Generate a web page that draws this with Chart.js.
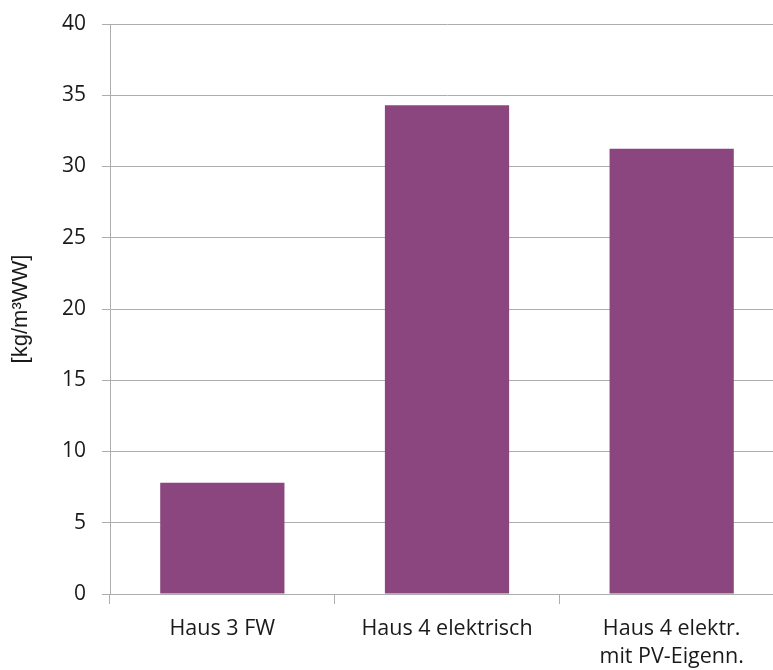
<!DOCTYPE html>
<html>
<head>
<meta charset="utf-8">
<script src="https://cdn.jsdelivr.net/npm/chart.js@4"></script>
<style>
  html, body { margin: 0; padding: 0; background: #fff; overflow: hidden; }
</style>
</head>
<body>
<canvas id="chart" width="784" height="670"></canvas>
<script>
// data
const categories = ['Haus 3 FW', 'Haus 4 elektrisch', ['Haus 4 elektr.', 'mit PV-Eigenn.']];
const values = [7.8, 34.3, 31.25];
const yTicks = [0, 5, 10, 15, 20, 25, 30, 35, 40];
const yTitle = '[kg/m³WW]';

const gridColor = '#adadad';
const barColor = '#8b4680';

const ctx = document.getElementById('chart').getContext('2d');
new Chart(ctx, {
    type: 'bar',
    data: {
        labels: categories,
        datasets: [{
            data: values,
            backgroundColor: barColor,
            borderWidth: 0,
            barPercentage: 0.553,
            categoryPercentage: 1
        }]
    },
    options: {
        responsive: false,
        animation: false,
        layout: { padding: { top: 24, right: 0, bottom: 0, left: 0 } },
        plugins: { legend: { display: false }, tooltip: { enabled: false } },
        scales: {
            x: {
                grid: { drawOnChartArea: false, drawTicks: true, tickLength: 10, color: gridColor },
                border: { color: gridColor, width: 1 },
                ticks: {
                    color: '#1a1a1a',
                    padding: 11,
                    maxRotation: 0,
                    font: { family: 'Open Sans', size: 21.5, lineHeight: 1.3 }
                },
                afterFit: scale => {
                    scale.height = 76;
                    scale.paddingLeft = 0;
                    scale.paddingRight = 0;
                }
            },
            y: {
                min: 0,
                max: 40,
                afterBuildTicks: scale => { scale.ticks = yTicks.map(v => ({ value: v })); },
                grid: { color: gridColor, tickLength: 8 },
                border: { color: gridColor, width: 1 },
                ticks: {
                    color: '#1a1a1a',
                    padding: 16,
                    font: { family: 'Open Sans', size: 21 }
                },
                title: {
                    display: true,
                    text: yTitle,
                    color: '#1a1a1a',
                    padding: { top: 8, bottom: 0 },
                    font: { family: 'Liberation Sans', size: 22 }
                },
                afterFit: scale => {
                    scale.width = 110;
                    scale.paddingTop = 0;
                    scale.paddingBottom = 0;
                }
            }
        }
    }
});
</script>
</body>
</html>
